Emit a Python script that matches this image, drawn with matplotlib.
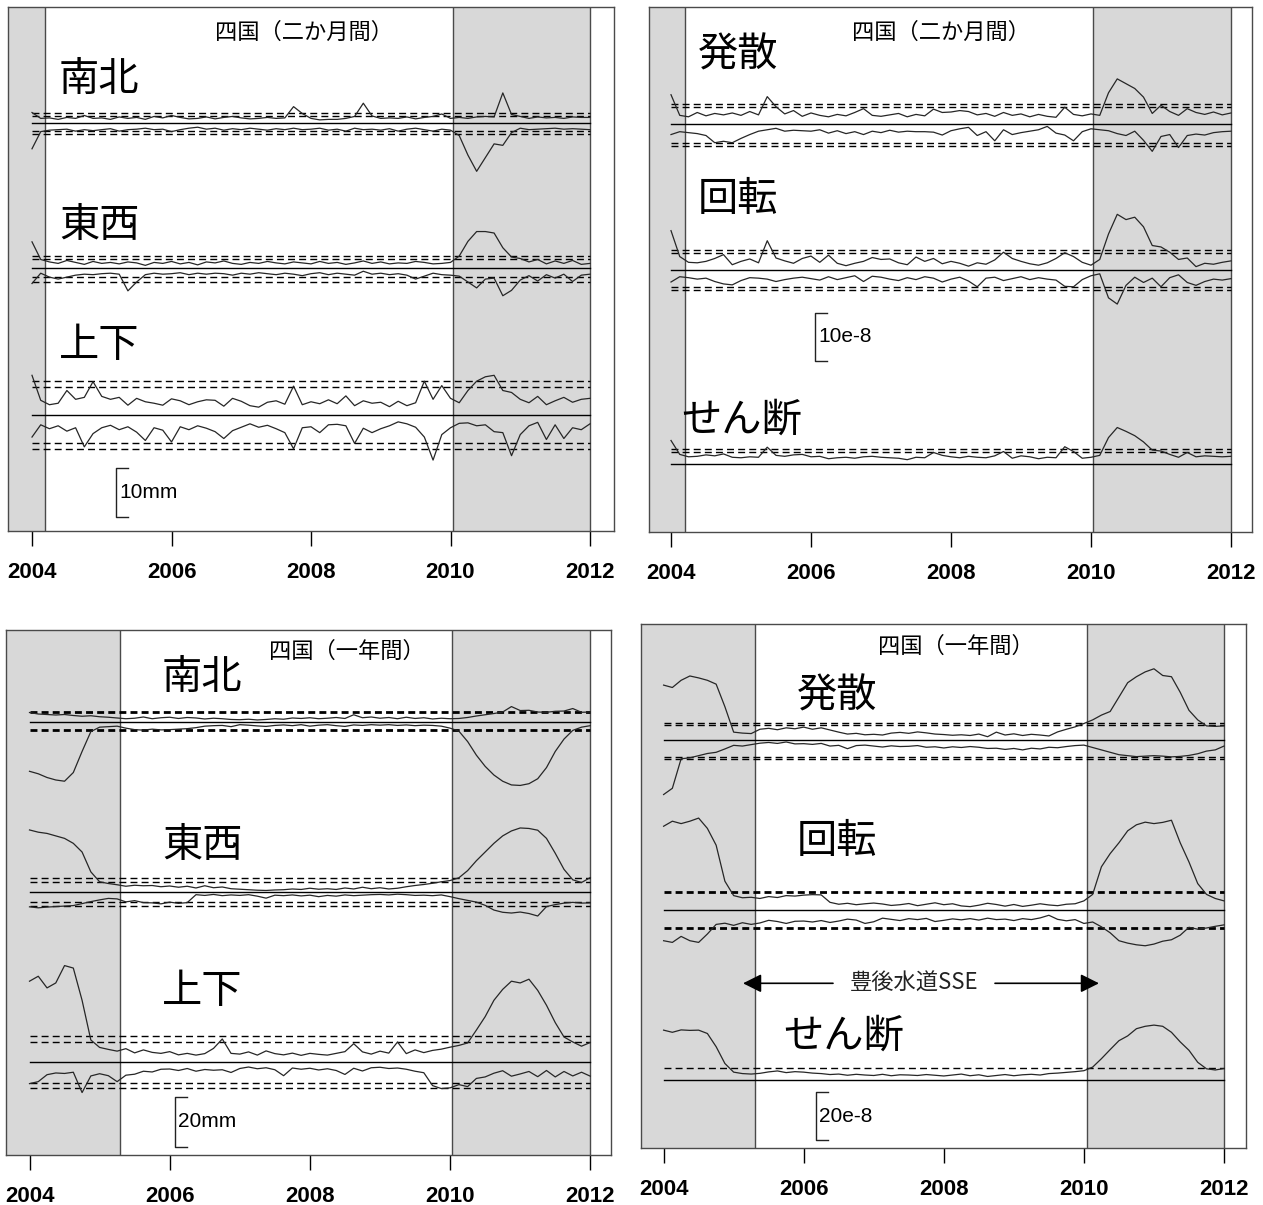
import numpy as np
import matplotlib
matplotlib.use("Agg")
import matplotlib.pyplot as plt

plt.rcParams['font.family'] = ['Noto Sans CJK JP', 'DejaVu Sans']

W, H = 1263, 1205
GRAY = '#d8d8d8'
EDGE = '#4a4a4a'
TRACE = '#262626'

# time axis shared by every trace (step of 1/8 year)
years = np.linspace(2004.0, 2012.0, 65)

# --- 四国(二か月間) displacement, mm (relative to each baseline) ---
tl_ns_up = [2.2, 1.0, 1.1, 0.8, 1.2, 1.0, 1.6, 1.0,
            1.1, 0.8, 1.3, 1.0, 1.2, 0.8, 1.4, 1.1,
            1.6, 1.2, 0.9, 1.0, 1.3, 0.9, 1.2, 1.4,
            1.1, 0.9, 1.0, 1.2, 1.0, 1.1, 3.4, 2.0,
            1.0, 0.7, 0.8, 0.8, 1.0, 1.4, 4.1, 1.5,
            1.0, 1.1, 1.0, 1.3, 0.9, 1.2, 1.4, 1.9,
            1.0, 1.2, 1.0, 1.3, 1.4, 1.3, 6.2, 1.8,
            1.4, 1.0, 1.3, 1.1, 1.2, 1.0, 1.3, 1.2,
            1.2]
tl_ns_lo = [-5.2, -1.7, -1.4, -1.3, -1.2, -1.6, -1.3, -1.5,
            -1.3, -1.1, -1.6, -1.3, -1.2, -1.0, -1.3, -1.2,
            -1.7, -1.3, -1.0, -0.8, -1.2, -1.0, -1.4, -1.1,
            -1.3, -1.0, -1.2, -1.4, -1.1, -1.3, -1.0, -1.3,
            -1.2, -1.0, -1.4, -1.2, -1.6, -1.0, -1.3, -1.2,
            -1.4, -1.1, -1.6, -1.2, -1.0, -1.3, -1.6, -1.2,
            -1.4, -2.5, -6.5, -9.8, -7.0, -4.2, -4.5, -1.9,
            -1.0, -1.3, -1.2, -1.1, -1.0, -1.2, -1.1, -1.2,
            -1.3]
tl_ew_up = [5.4, 1.8, 1.3, 1.0, 1.6, 1.2, 0.8, 1.4,
            1.0, 1.2, 0.9, 1.3, 1.1, 0.6, 1.2, 1.0,
            1.4, 0.9, 1.2, 0.7, 1.3, 1.1, 1.5, 1.0,
            0.8, 1.2, 1.0, 1.4, 1.1, 0.9, 1.3, 1.1,
            0.9, 1.4, 1.0, 1.2, 0.8, 1.1, 1.5, 1.0,
            1.3, 0.9, 1.1, 1.0, 1.4, 1.2, 0.9, 1.0,
            1.2, 2.5, 5.5, 7.5, 7.5, 7.2, 4.2, 2.3,
            2.0, 1.3, 1.8, 0.9, 1.5, 1.0, 1.6, 0.8,
            1.0]
tl_ew_lo = [-3.1, -1.0, -1.8, -2.2, -1.8, -1.4, -1.2, -1.3,
            -1.1, -1.0, -1.2, -4.6, -2.8, -1.3, -1.0, -1.2,
            -1.1, -0.9, -1.3, -1.0, -1.2, -1.0, -1.1, -1.4,
            -1.0, -1.2, -0.9, -1.1, -1.3, -1.0, -1.2, -1.5,
            -1.1, -0.9, -1.3, -1.0, -1.2, -1.4, -0.6, -1.2,
            -1.0, -1.3, -1.1, -1.4, -2.2, -1.6, -1.0, -1.3,
            -1.4, -1.6, -2.8, -4.0, -2.2, -2.0, -5.6, -4.5,
            -2.4, -1.5, -2.6, -1.3, -2.0, -1.2, -2.7, -1.4,
            -1.2]
tl_ud_up = [8.1, 3.0, 2.1, 2.4, 5.0, 3.2, 3.6, 6.8,
            3.8, 3.2, 3.6, 2.0, 3.4, 2.7, 2.4, 2.0,
            3.3, 2.9, 2.1, 2.7, 3.1, 3.0, 1.8, 3.4,
            2.8, 1.9, 1.6, 2.6, 2.9, 2.2, 5.9, 2.1,
            2.7, 2.3, 3.1, 2.3, 3.9, 1.9, 2.9, 2.4,
            2.6, 1.7, 2.8, 1.9, 2.5, 6.9, 3.2, 6.0,
            3.4, 2.5, 5.0, 6.9, 7.8, 8.1, 5.0, 4.6,
            3.2, 2.5, 3.8, 2.1, 2.9, 3.6, 2.6, 3.2,
            3.4]
tl_ud_lo = [-4.5, -2.0, -2.8, -2.2, -3.3, -2.6, -6.5, -3.8,
            -2.6, -2.1, -3.0, -2.4, -3.5, -5.2, -2.6, -3.1,
            -5.5, -2.4, -3.0, -2.2, -2.7, -3.4, -4.8, -3.2,
            -2.5, -1.8, -2.5, -2.1, -2.8, -3.6, -6.9, -2.6,
            -2.4, -3.6, -2.0, -1.9, -2.2, -5.8, -2.7, -3.6,
            -2.8, -2.2, -1.4, -1.8, -2.5, -4.5, -9.2, -4.0,
            -2.6, -1.7, -1.6, -2.2, -2.0, -3.4, -3.6, -8.3,
            -4.0, -2.2, -1.5, -5.0, -2.0, -4.8, -2.6, -3.0,
            -1.8]

# --- 四国(二か月間) strain, 1e-8 ---
tr_dil_up = [6.1, 1.8, 1.5, 2.4, 1.7, 2.2, 1.9, 2.3,
             1.8, 2.6, 1.9, 5.7, 3.6, 2.1, 2.8, 1.6,
             2.3, 1.8, 1.5, 2.0, 1.7, 2.4, 3.2, 1.8,
             1.6, 1.9, 2.2, 1.5, 2.0, 1.7, 3.1, 2.4,
             2.5, 2.8, 2.6, 1.9, 2.2, 1.6, 2.4, 1.8,
             2.1, 1.5, 2.0, 1.6, 1.4, 3.5, 2.0, 1.7,
             2.1, 1.8, 6.5, 9.4, 8.4, 7.4, 5.6, 2.2,
             3.9, 2.6, 1.8, 3.2, 2.4, 2.0, 2.5, 1.9,
             2.3]
tr_dil_lo = [-2.2, -1.6, -1.8, -2.0, -2.4, -3.9, -3.6, -3.9,
             -3.0, -2.2, -1.5, -1.2, -0.9, -1.5, -1.3, -1.4,
             -1.5, -1.2, -1.9, -1.4, -2.0, -1.6, -2.2, -1.5,
             -1.8, -1.3, -1.7, -1.5, -1.6, -1.6, -1.7, -2.3,
             -1.4, -1.0, -0.7, -2.4, -1.6, -3.5, -1.2, -2.2,
             -1.8, -1.5, -1.2, -0.5, -1.9, -2.3, -3.5, -1.6,
             -1.0, -1.2, -1.4, -2.0, -2.4, -1.5, -3.4, -5.7,
             -2.6, -2.2, -4.9, -2.4, -2.1, -2.3, -1.8, -1.6,
             -1.5]
tr_rot_up = [8.2, 2.8, 1.6, 1.5, 1.8, 2.4, 3.2, 1.1,
             1.8, 2.3, 1.5, 6.1, 2.5, 1.9, 1.4, 2.4,
             2.9, 1.6, 3.1, 1.4, 0.9, 1.4, 1.8, 2.6,
             2.2, 2.3, 1.5, 1.1, 2.7, 1.8, 2.4, 1.3,
             1.8, 1.4, 0.8, 1.5, 1.2, 2.1, 3.7, 2.4,
             1.8, 1.3, 1.0, 1.5, 2.4, 3.6, 2.8, 1.6,
             1.0, 2.2, 7.5, 11.6, 10.5, 11.0, 9.0, 5.1,
             4.8, 3.7, 2.2, 2.5, 0.7, 1.4, 1.2, 1.6,
             1.9]
tr_rot_lo = [-2.5, -1.4, -1.6, -1.9, -1.7, -2.4, -2.9, -3.1,
             -2.2, -1.6, -1.7, -1.9, -2.4, -2.0, -1.7, -1.5,
             -1.8, -2.1, -1.4, -2.0, -1.6, -1.2, -2.4, -1.3,
             -1.5, -1.9, -2.2, -1.6, -2.0, -1.4, -1.7, -2.5,
             -1.9, -1.5, -2.3, -3.5, -1.7, -1.5, -2.2, -1.8,
             -1.4, -2.0, -1.6, -1.9, -2.1, -3.4, -3.5, -2.0,
             -1.2, -0.8, -5.8, -7.1, -3.2, -1.5, -2.6, -1.7,
             -3.5, -1.6, -1.0, -2.6, -3.2, -2.4, -1.9, -2.1,
             -1.8]
tr_shr_up = [4.9, 2.0, 1.5, 1.6, 1.9, 1.7, 2.1, 1.4,
             1.3, 1.5, 1.4, 3.5, 1.8, 1.6, 1.9, 2.0,
             1.5, 1.6, 1.1, 1.3, 1.4, 1.2, 1.5, 1.6,
             1.4, 1.3, 1.2, 0.9, 1.4, 1.3, 2.4, 1.8,
             1.5, 1.3, 1.6, 1.4, 1.3, 1.7, 2.6, 1.2,
             1.7, 1.5, 1.1, 1.4, 1.3, 3.6, 2.6, 1.2,
             1.4, 1.8, 5.5, 7.6, 6.8, 5.9, 4.6, 2.9,
             2.7, 2.0, 1.4, 2.4, 1.5, 1.7, 1.6, 1.5,
             1.6]

# --- 四国(一年間) displacement, mm ---
bl_ns_up = [3.7, 3.1, 2.9, 2.7, 2.9, 2.5, 2.2, 2.4,
            2.0, 1.8, 1.5, 1.2, 1.4, 1.9, 1.2, 1.6,
            1.8, 1.3, 1.7, 1.5, 1.1, 1.4, 1.2, 0.9,
            0.8, 1.0, 0.7, 0.9, 1.2, 1.0, 1.5, 1.3,
            1.6, 1.2, 1.4, 1.7, 1.3, 2.8, 1.6, 1.9,
            1.4, 1.7, 1.2, 1.8, 1.3, 1.6, 1.1, 1.4,
            1.2, 1.3, 1.7, 2.3, 2.8, 3.3, 3.9, 6.1,
            4.5, 4.6, 3.9, 3.8, 4.2, 4.3, 5.3, 3.8,
            3.9]
bl_ns_lo = [-20.0, -21.0, -22.5, -23.5, -24.0, -20.5, -12.0, -4.0,
            -2.2, -2.0, -1.8, -2.6, -3.2, -3.4, -3.0, -3.3,
            -3.2, -3.0, -2.8, -2.4, -1.8, -1.6, -1.5, -2.0,
            -1.2, -1.4, -1.7, -1.9, -1.5, -1.3, -1.6, -1.2,
            -1.8, -1.4, -1.2, -1.6, -1.9, -1.3, -1.5, -1.2,
            -1.4, -1.2, -1.5, -1.3, -1.6, -1.4, -1.5, -1.8,
            -2.6, -3.8, -8.0, -13.5, -18.0, -21.5, -24.0, -25.5,
            -25.7, -25.0, -23.0, -18.5, -12.0, -7.0, -3.5, -2.2,
            -1.6]
bl_ew_up = [24.9, 24.0, 23.5, 22.5, 21.5, 19.5, 16.0, 8.0,
            4.0, 3.3, 2.8, 2.2, 2.6, 2.4, 2.5, 2.0,
            2.3, 1.8, 2.2, 1.5, 2.4, 1.6, 1.9, 1.2,
            1.0, 0.8, 0.6, 0.5, 0.7, 0.8, 1.1, 0.9,
            1.4, 1.0, 1.2, 0.9, 1.5, 1.1, 1.8, 1.2,
            1.6, 1.1, 1.4, 2.0, 2.5, 2.9, 3.4, 4.0,
            4.5, 5.6, 8.5, 12.5, 16.0, 19.5, 22.5, 24.5,
            25.7, 25.5, 24.8, 21.5, 15.5, 9.0, 4.8, 3.7,
            5.7]
bl_ew_lo = [-6.1, -6.5, -6.2, -6.0, -5.8, -5.6, -4.8, -4.0,
            -3.3, -2.7, -2.9, -4.1, -3.6, -4.4, -4.5, -4.9,
            -4.2, -4.7, -4.4, -1.2, -1.5, -1.1, -1.6, -1.3,
            -1.5, -1.2, -1.8, -2.6, -1.4, -1.6, -1.3, -1.7,
            -1.4, -2.0, -1.5, -1.8, -1.3, -1.6, -1.4, -1.2,
            -1.1, -1.3, -1.0, -1.2, -1.5, -1.4, -1.6, -1.3,
            -2.0, -2.8, -3.5, -4.2, -5.5, -7.4, -8.3, -8.6,
            -8.2, -8.8, -9.8, -6.0, -5.2, -4.6, -4.3, -4.6,
            -4.5]
bl_ud_up = [32.7, 34.7, 30.0, 32.0, 39.0, 38.0, 25.0, 9.0,
            6.0, 5.2, 4.5, 5.5, 3.8, 5.0, 4.0, 3.6,
            4.3, 3.0, 3.6, 2.9, 3.5, 5.6, 9.4, 3.6,
            3.3, 4.2, 2.9, 4.6, 3.5, 3.0, 3.7, 2.8,
            3.6, 3.2, 2.9, 3.6, 4.3, 7.5, 4.2, 3.3,
            4.5, 3.7, 8.2, 3.5, 5.0, 3.9, 4.8, 5.3,
            6.1, 6.8, 7.8, 13.0, 18.4, 25.0, 29.4, 32.7,
            32.0, 33.5, 29.0, 23.0, 16.0, 10.2, 8.2, 6.5,
            8.0]
bl_ud_lo = [-8.6, -7.8, -5.0, -4.3, -4.5, -4.0, -12.2, -5.5,
            -4.6, -5.4, -7.8, -5.2, -4.8, -3.6, -3.9, -2.8,
            -2.7, -3.3, -2.5, -3.6, -2.9, -3.2, -3.0, -4.1,
            -2.5, -1.9, -2.6, -2.2, -3.0, -5.4, -2.3, -2.8,
            -2.4, -3.1, -2.6, -3.3, -4.9, -2.4, -3.5, -2.2,
            -2.0, -2.5, -2.3, -2.8, -3.6, -4.2, -9.4, -10.6,
            -10.3, -9.0, -9.8, -6.5, -5.9, -4.4, -3.4, -5.6,
            -4.7, -3.7, -5.8, -3.3, -5.9, -3.7, -5.5, -4.0,
            -5.6]

# --- 四国(一年間) strain, 1e-8 ---
br_dil_up = [23.0, 22.0, 25.0, 26.8, 26.0, 25.0, 23.4, 14.0,
             3.4, 3.0, 2.8, 4.6, 5.0, 4.4, 5.2, 4.8,
             5.5, 4.6, 5.2, 4.3, 3.4, 2.6, 2.9, 2.3,
             2.5, 2.2, 3.0, 3.3, 2.9, 3.5, 3.1, 2.6,
             2.4, 2.1, 2.3, 2.0, 2.6, 1.5, 3.4, 2.2,
             2.7, 2.0, 2.5, 2.2, 1.8, 3.5, 4.6, 5.6,
             7.0, 8.5, 10.5, 12.0, 18.0, 24.0, 26.5, 28.5,
             29.8, 27.0, 26.5, 20.0, 12.5, 8.5, 6.0, 5.8,
             6.0]
br_dil_lo = [-22.6, -20.0, -7.7, -7.3, -6.4, -5.5, -5.0, -3.6,
             -2.1, -2.4, -1.8, -1.2, -0.9, -1.3, -0.7, -1.5,
             -1.4, -1.7, -1.3, -2.4, -2.1, -3.5, -2.2, -2.0,
             -2.4, -2.8, -2.3, -2.6, -2.5, -2.2, -2.9, -2.7,
             -3.2, -2.7, -3.0, -2.6, -2.9, -3.4, -3.3, -3.8,
             -3.4, -4.0, -3.3, -3.6, -2.9, -3.1, -2.6, -2.2,
             -2.0, -3.0, -4.0, -5.0, -6.0, -6.4, -6.8, -6.6,
             -6.4, -6.6, -6.9, -6.7, -6.3, -5.6, -4.5, -4.0,
             -2.4]
br_rot_up = [34.9, 37.0, 36.0, 37.0, 38.3, 34.0, 27.0, 12.0,
             6.0, 5.1, 5.3, 4.8, 5.6, 5.2, 6.0, 5.8,
             6.2, 6.4, 6.3, 3.2, 2.4, 2.8, 2.2, 2.6,
             2.9, 2.5, 1.9, 2.2, 2.7, 1.8, 2.4, 3.0,
             2.2, 2.6, 1.7, 1.4, 2.0, 2.8, 2.3, 1.6,
             2.3, 1.5, 2.0, 2.6, 2.1, 1.8, 2.4, 2.6,
             3.8, 6.5, 18.0, 23.5, 28.0, 33.0, 35.5, 36.6,
             36.0, 36.5, 37.4, 28.0, 20.0, 11.0, 6.5, 4.8,
             3.8]
br_rot_lo = [-12.8, -13.5, -11.0, -12.8, -13.5, -10.0, -6.0, -5.5,
             -6.4, -5.3, -6.0, -5.4, -4.3, -4.8, -5.6, -4.7,
             -4.6, -5.0, -4.4, -5.2, -4.6, -3.8, -4.2, -5.6,
             -4.9, -3.4, -3.9, -4.4, -3.6, -4.0, -3.5, -4.8,
             -4.3, -3.7, -4.1, -3.6, -4.2, -3.4, -4.0, -3.8,
             -4.4, -3.6, -4.0, -3.3, -2.2, -3.9, -4.5, -4.0,
             -5.6, -5.0, -7.0, -9.5, -12.8, -13.8, -14.5, -14.9,
             -14.2, -13.0, -12.4, -10.5, -7.2, -8.0, -7.5, -6.8,
             -6.2]
br_shr_up = [20.9, 20.0, 21.0, 20.8, 20.9, 19.5, 14.0, 7.0,
             3.4, 2.8, 2.6, 2.9, 3.5, 3.9, 3.2, 3.6,
             3.4, 3.0, 2.8, 2.4, 2.6, 2.1, 2.5, 2.2,
             2.0, 2.5, 1.9, 2.3, 2.2, 2.0, 2.4, 2.1,
             1.8, 2.2, 2.6, 1.9, 2.3, 1.6, 2.0, 2.4,
             1.9, 2.3, 2.5, 2.2, 2.8, 3.0, 3.3, 3.6,
             4.0, 5.5, 9.0, 12.8, 16.5, 18.5, 21.5, 22.5,
             23.0, 22.5, 20.0, 16.0, 12.5, 7.5, 4.8, 4.3,
             4.9]

tick_years = [2004, 2006, 2008, 2010, 2012]

# panel layout in pixels of the reference picture
# comps: name, label pos, baseline, dashed lines, dashed width, upper, lower
panels = [
    dict(box=(8, 7, 614, 531), x0=32, pxyr=69.75, ppu=4.9, gray=(2004.19, 2010.04),
         title="四国（二か月間）", title_xy=(304, 32),
         scale=(116, 467.7, 10, "10mm"),
         comps=[("南北", (59, 76), 123.3, [113.3, 116.3, 131.5, 134.3], 1.0, tl_ns_up, tl_ns_lo),
                ("東西", (59, 222), 268.3, [256, 259.3, 277.3, 281.7], 1.0, tl_ew_up, tl_ew_lo),
                ("上下", (59, 343), 415, [381, 386.7, 442.7, 449.3], 1.0, tl_ud_up, tl_ud_lo)]),
    dict(box=(649, 7, 1252, 532), x0=671, pxyr=70.0, ppu=4.8, gray=(2004.2, 2010.03),
         title="四国（二か月間）", title_xy=(941, 32),
         scale=(815, 312.7, 10, "10e-8"),
         comps=[("発散", (698, 52), 124, [104, 107.3, 142.7, 146], 1.0, tr_dil_up, tr_dil_lo),
                ("回転", (698, 197), 270, [250, 253.3, 286.7, 290], 1.0, tr_rot_up, tr_rot_lo),
                ("せん断", (681, 417), 464, [449.3, 451.7], 1.0, tr_shr_up, None)]),
    dict(box=(6, 630, 611, 1155), x0=29.5, pxyr=70.1, ppu=2.48, gray=(2005.29, 2010.03),
         title="四国（一年間）", title_xy=(347, 651),
         scale=(174.6, 1097, 20, "20mm"),
         comps=[("南北", (162, 674), 721.7, [712.5, 730.2], 2.0, bl_ns_up, bl_ns_lo),
                ("東西", (162, 843), 891.7, [878.3, 881.7, 901.7, 905.7], 1.0, bl_ew_up, bl_ew_lo),
                ("上下", (162, 989), 1062.3, [1036, 1041.7, 1082.7, 1088.3], 1.0, bl_ud_up, bl_ud_lo)]),
    dict(box=(641, 624, 1246, 1148), x0=663.6, pxyr=70.05, ppu=2.4, gray=(2005.31, 2010.05),
         title="四国（一年間）", title_xy=(956, 646),
         scale=(816, 1092, 20, "20e-8"),
         comps=[("発散", (797, 693), 740.3, [722.7, 725.3, 756.7, 759], 1.0, br_dil_up, br_dil_lo),
                ("回転", (797, 838), 910, [892.3, 928.3], 2.0, br_rot_up, br_rot_lo),
                ("せん断", (783, 1033), 1080.3, [1067.7], 1.0, br_shr_up, None)]),
]

fig = plt.figure(figsize=(W / 100, H / 100), dpi=100)

for i, p in enumerate(panels):
    l, t, r, b = p['box']
    ax = fig.add_axes([l / W, 1 - b / H, (r - l) / W, (b - t) / H])

    def yr(x, p=p):
        return 2004 + (x - p['x0']) / p['pxyr']

    def un(y, b=b, p=p):
        return (b - y) / p['ppu']

    ax.set_xlim(yr(l), yr(r))
    ax.set_ylim(0, (b - t) / p['ppu'])

    g0, g1 = p['gray']
    ax.axvspan(yr(l), g0, color=GRAY, lw=0, zorder=0)
    ax.axvspan(g1, 2012, color=GRAY, lw=0, zorder=0)
    for xv in (g0, g1, 2012):
        ax.axvline(xv, color=EDGE, lw=1.0, zorder=1)

    for name, (lx, ly), base_px, dash_px, dlw, up, lo in p['comps']:
        base = un(base_px)
        ax.plot([2004, 2012], [base, base], color='black', lw=1.0, zorder=2)
        for d in dash_px:
            ax.plot([2004, 2012], [un(d), un(d)], color='black', lw=dlw,
                    dashes=(5 / dlw, 3 / dlw), zorder=2)
        ax.plot(years, base + np.array(up), color=TRACE, lw=0.9, zorder=3)
        if lo is not None:
            ax.plot(years, base + np.array(lo), color=TRACE, lw=0.9, zorder=3)
        fig.text(lx / W, 1 - (ly + 3) / H, name, fontsize=29, ha='left', va='center')

    fig.text(p['title_xy'][0] / W, 1 - p['title_xy'][1] / H, p['title'],
             fontsize=16, ha='center', va='center')

    # scale bar
    sx, stop, slen, stxt = p['scale']
    bx = yr(sx)
    tick = 12 / p['pxyr']
    ytop = un(stop)
    ax.plot([bx + tick, bx, bx, bx + tick], [ytop, ytop, ytop - slen, ytop - slen],
            color='#222222', lw=1.0, zorder=3)
    ax.text(bx + 3 / p['pxyr'], ytop - slen / 2, stxt, fontsize=15,
            family='Liberation Sans', ha='left', va='center')

    ax.set_xticks(tick_years)
    ax.set_xticklabels([str(v) for v in tick_years], family='Liberation Sans',
                       fontweight='bold', fontsize=16)
    ax.tick_params(axis='x', direction='out', length=10.5, width=1.0,
                   colors='black', pad=12)
    ax.set_yticks([])
    for s in ax.spines.values():
        s.set_color(EDGE)
        s.set_linewidth(1.0)

    if i == 3:
        ya = un(983.3)
        ax.annotate('', xy=(yr(743), ya), xytext=(yr(833), ya),
                    arrowprops=dict(arrowstyle='-|>', mutation_scale=28,
                                    color='black', lw=1.2, shrinkA=0, shrinkB=0))
        ax.annotate('', xy=(yr(1099), ya), xytext=(yr(995), ya),
                    arrowprops=dict(arrowstyle='-|>', mutation_scale=28,
                                    color='black', lw=1.2, shrinkA=0, shrinkB=0))
        ax.text(yr(914), ya, "豊後水道SSE", fontsize=16, color='#222222',
                ha='center', va='center')

fig.savefig("out.png", dpi=100)
